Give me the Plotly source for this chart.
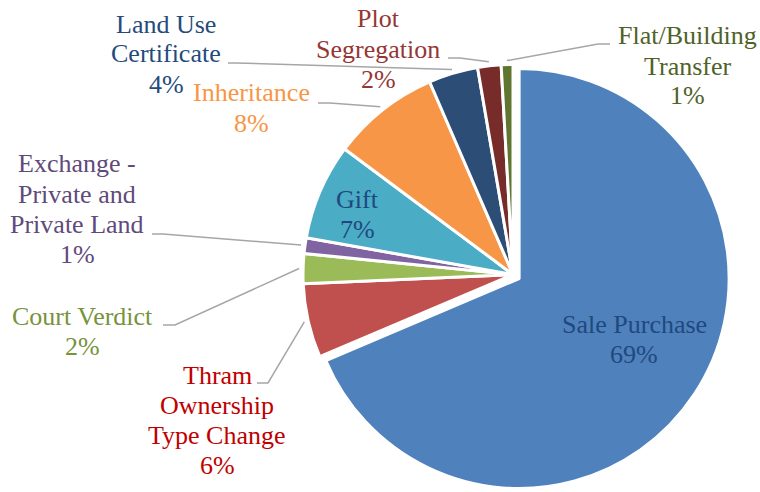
import math
import plotly.graph_objects as go

# ---------------- data ----------------
categories = ["Sale Purchase", "Thram Ownership Type Change", "Court Verdict",
              "Exchange - Private and Private Land", "Gift", "Inheritance",
              "Land Use Certificate", "Plot Segregation", "Flat/Building Transfer"]
values = [68.6, 5.7, 2.3, 1.2, 7.4, 8.3, 3.8, 1.8, 0.9]
label_lines = [["Sale Purchase"], ["Thram", "Ownership", "Type Change"], ["Court Verdict"],
               ["Exchange -", "Private and", "Private Land"], ["Gift"], ["Inheritance"],
               ["Land Use", "Certificate"], ["Plot", "Segregation"], ["Flat/Building", "Transfer"]]

# ---------------- style ----------------
slice_colors = ["#4F81BD", "#C0504D", "#9BBB59", "#8064A2", "#4BACC6",
                "#F79646", "#2C4D75", "#772C2A", "#5F7530"]
text_colors = ["#1F497D", "#C00000", "#77933C", "#604A7B", "#1F497D",
               "#F79646", "#254B7C", "#953735", "#4F6228"]
pulls = [0.035, 0, 0, 0, 0, 0, 0, 0, 0]
# label placement: (center x px, first baseline y px), leader (start, elbow) in px
label_pos = [(634, 333), (217, 384), (82, 325), (77, 173), (357, 208),
             (252, 102), (166, 33), (378, 28), (687, 45)]
leaders = [None, ((257, 383), (268, 383)), ((163, 325), (175, 325)),
           ((152, 234), (163, 234)), None, ((318, 103), (330, 103)),
           ((228, 63), (236, 63)), ((448, 58), (460, 58)), ((610, 44), (598, 44))]

W, H = 760, 492
FONT = "Liberation Serif, Times New Roman, DejaVu Serif, serif"
FS = 26
LINE = 30

cx, cy = 513, 274.5
r_target = 210
half = r_target * (1 + max(pulls))
dom_x = [(cx - half) / W, (cx + half) / W]
dom_y = [max(0.0, 1 - (cy + half) / H), min(1.0, 1 - (cy - half) / H)]
r = half / (1 + max(pulls))

fig = go.Figure(go.Pie(
    labels=categories, values=values, sort=False, direction="clockwise", rotation=0,
    textinfo="none", pull=pulls, showlegend=False,
    marker=dict(colors=slice_colors, line=dict(color="white", width=3)),
    domain=dict(x=dom_x, y=dom_y),
))

def px2paper(x, y):
    return x / W, 1 - y / H

total = sum(values)
annotations = []
shapes = []
cum = 0
for i, v in enumerate(values):
    mid = (cum + v / 2) / total * 2 * math.pi
    cum += v
    lines = label_lines[i] + [f"{round(v / total * 100)}%"]
    x0, b0 = label_pos[i]
    for k, t in enumerate(lines):
        xp, yp = px2paper(x0, b0 + k * LINE - 9)
        annotations.append(dict(x=xp, y=yp, xref="paper", yref="paper", text=t,
                                showarrow=False, xanchor="center", yanchor="middle",
                                font=dict(family=FONT, size=FS, color=text_colors[i])))
    if leaders[i] is not None:
        R = r + 4
        ex = cx + R * math.sin(mid)
        ey = cy - R * math.cos(mid)
        (sx, sy), (kx, ky) = leaders[i]
        pts = [px2paper(sx, sy), px2paper(kx, ky), px2paper(ex, ey)]
        path = "M {} {} L {} {} L {} {}".format(pts[0][0], pts[0][1], pts[1][0], pts[1][1],
                                                 pts[2][0], pts[2][1])
        shapes.append(dict(type="path", path=path, xref="paper", yref="paper",
                           line=dict(color="#A6A6A6", width=1.5)))

fig.update_layout(width=W, height=H, margin=dict(l=0, r=0, t=0, b=0),
                  paper_bgcolor="white", plot_bgcolor="white",
                  font=dict(family=FONT),
                  annotations=annotations, shapes=shapes)
fig.write_html("out.html", config={"displayModeBar": False},
               post_script="document.body.style.margin='0';document.body.style.padding='0';")
